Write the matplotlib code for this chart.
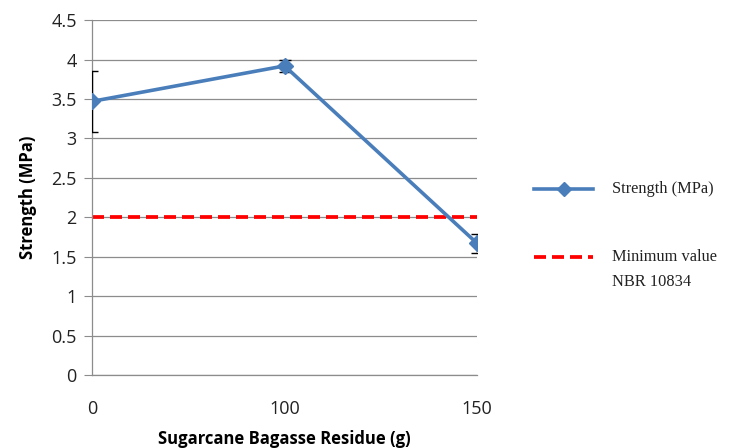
import matplotlib.pyplot as plt
from matplotlib.lines import Line2D

# Data
residue_labels = ["0", "100", "150"]
strength = [3.47, 3.92, 1.67]
strength_err = [0.39, 0.08, 0.12]
nbr_minimum = 2.0
y_ticks = [0, 0.5, 1, 1.5, 2, 2.5, 3, 3.5, 4, 4.5]

blue = "#4A7EBB"
red = "#FF0000"
grid_col = "#8C8C8C"
W, H = 744, 448

fig = plt.figure(figsize=(W / 100, H / 100), dpi=100)
ax = fig.add_axes([0.1237, 0.163, 0.5175, 0.792])

x = list(range(len(residue_labels)))

ax.plot(x, [nbr_minimum] * len(x), color=red, lw=2.7,
        dashes=(3.2, 1.6), zorder=2)
ax.errorbar(x, strength, yerr=strength_err, fmt="none", ecolor="black",
            elinewidth=1.0, capsize=4, capthick=1.0, zorder=3)
ax.plot(x, strength, color=blue, lw=2.6, marker="D", markersize=8.5,
        markerfacecolor=blue, markeredgecolor=blue, zorder=4)

ax.set_xlim(0, len(x) - 1)
ax.set_ylim(0, 4.5)
ax.set_yticks(y_ticks)
ax.set_yticklabels([f"{v:g}" for v in y_ticks])
ax.set_xticks(x)
ax.set_xticklabels(residue_labels)

ax.yaxis.grid(True, color=grid_col, lw=0.9)
ax.set_axisbelow(True)
for side in ["top", "right"]:
    ax.spines[side].set_visible(False)
for side in ["left", "bottom"]:
    ax.spines[side].set_color(grid_col)
    ax.spines[side].set_linewidth(0.9)

ax.tick_params(axis="y", length=6, color=grid_col, labelsize=13,
               pad=5, labelcolor="#222222")
ax.tick_params(axis="x", length=0, labelsize=13, pad=18,
               labelcolor="#222222")
for lbl in ax.get_xticklabels() + ax.get_yticklabels():
    lbl.set_fontfamily("Open Sans")

ax.set_xlabel("Sugarcane Bagasse Residue (g)", fontsize=12,
              fontweight="bold", family="Open Sans", labelpad=9)
ax.set_ylabel("Strength (MPa)", fontsize=12, fontweight="bold",
              family="Open Sans", labelpad=10)

# Legend drawn in figure pixel positions
def fx(px):
    return px / W


def fy(py):
    return 1 - py / H


legend_font = {"family": "Liberation Serif", "size": 11.8, "color": "#222222"}
fig.add_artist(Line2D([fx(534), fx(593)], [fy(189), fy(189)], color=blue,
                      lw=2.6, transform=fig.transFigure))
fig.add_artist(Line2D([fx(563.5)], [fy(189)], color=blue, marker="D",
                      markersize=7.5, transform=fig.transFigure))
fig.text(fx(612), fy(189), "Strength (MPa)", va="center", ha="left",
         **legend_font)
fig.add_artist(Line2D([fx(534), fx(593)], [fy(257), fy(257)], color=red,
                      lw=2.7, dashes=(3.2, 1.6), transform=fig.transFigure))
fig.text(fx(612), fy(257), "Minimum value", va="center", ha="left",
         **legend_font)
fig.text(fx(612), fy(282), "NBR 10834", va="center", ha="left",
         **legend_font)

fig.savefig("out.png", dpi=100)
